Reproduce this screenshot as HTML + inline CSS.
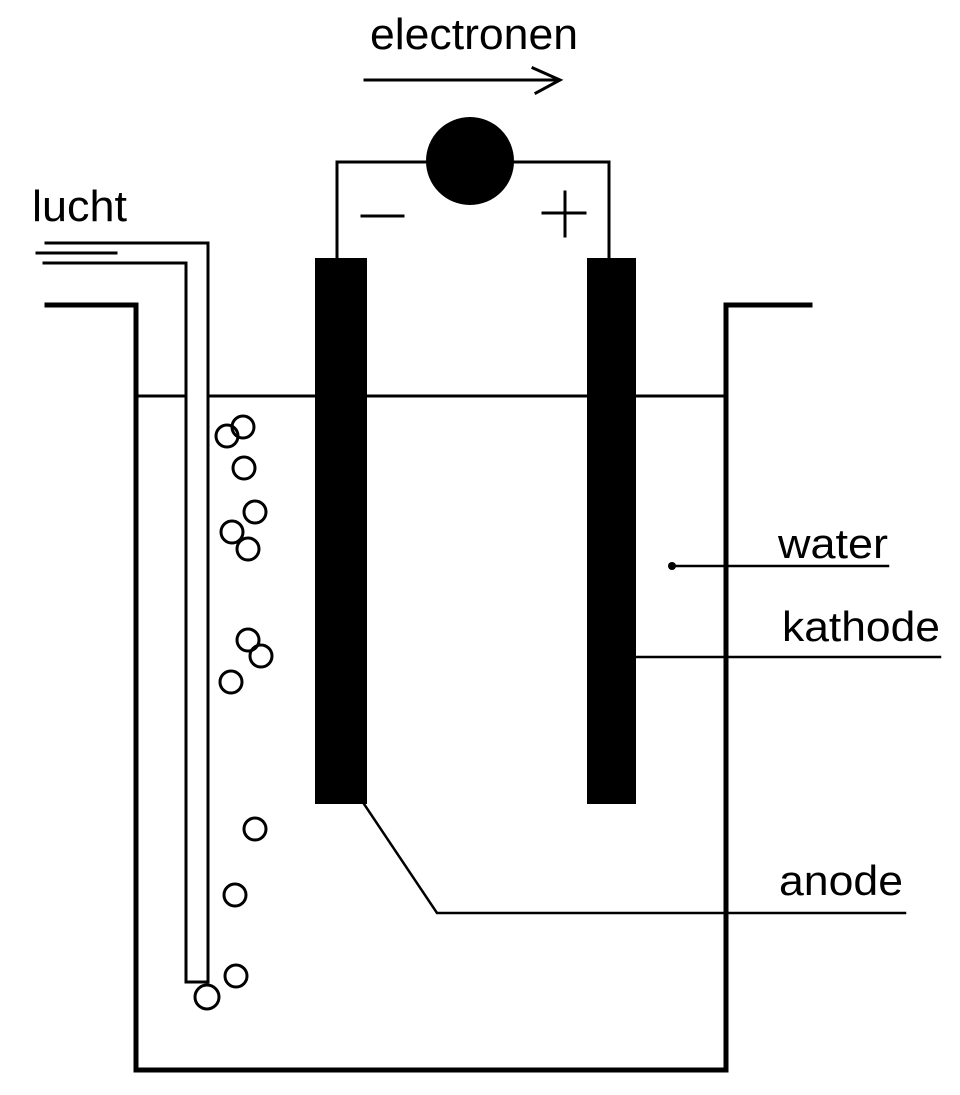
<!DOCTYPE html>
<html><head><style>
html,body{margin:0;padding:0;background:#fff;}
svg{display:block;}
text{font-family:"Liberation Sans",sans-serif;fill:#000;}
</style></head><body>
<svg width="960" height="1095" viewBox="0 0 960 1095" xmlns="http://www.w3.org/2000/svg">
<g fill="none" stroke="#000" stroke-linecap="square">
<path d="M47 305 H136 V1070 H726 V305 H810" stroke-width="5"/>
<path d="M136 396 H186 M208 396 H726" stroke-width="3"/>
<path d="M46 243 H208 V982 H186 V263 H44" stroke-width="3"/>
<path d="M37 253 H116" stroke-width="3"/>
<path d="M337 260 V162 H609 V260" stroke-width="3"/>
<path d="M365 80 H558" stroke-width="3"/>
<path d="M533 68 L560 80 L536 93" stroke-width="3"/>
<path d="M362 216 H403" stroke-width="3"/>
<path d="M543 213 H585 M565 192 V236" stroke-width="3"/>
<path d="M672 566 H888" stroke-width="2.5"/>
<path d="M636 657 H940" stroke-width="2.5"/>
<path d="M364 804 L437 913 H905" stroke-width="2.5"/>
<g stroke-width="3">
<circle cx="243" cy="427" r="11"/><circle cx="227" cy="436" r="11"/>
<circle cx="244" cy="468" r="11"/><circle cx="255" cy="512" r="11"/>
<circle cx="232" cy="532" r="11"/><circle cx="248" cy="549" r="11"/>
<circle cx="248" cy="640" r="11"/><circle cx="261" cy="656" r="11"/>
<circle cx="231" cy="682" r="11"/><circle cx="255" cy="829" r="11"/>
<circle cx="235" cy="895" r="11"/><circle cx="236" cy="976" r="11"/>
<circle cx="207" cy="997" r="12"/>
</g>
</g>
<rect x="315" y="258" width="52" height="546" fill="#000"/>
<rect x="587" y="258" width="49" height="546" fill="#000"/>
<circle cx="470" cy="161" r="44" fill="#000"/>
<circle cx="672" cy="566" r="4" fill="#000"/>
<text x="370" y="49" font-size="44" textLength="208" lengthAdjust="spacingAndGlyphs">electronen</text>
<text x="32" y="221" font-size="44" textLength="95" lengthAdjust="spacingAndGlyphs">lucht</text>
<text x="778" y="558" font-size="42" textLength="110" lengthAdjust="spacingAndGlyphs">water</text>
<text x="782" y="641" font-size="42" textLength="158" lengthAdjust="spacingAndGlyphs">kathode</text>
<text x="779" y="895" font-size="42" textLength="124" lengthAdjust="spacingAndGlyphs">anode</text>
</svg>
</body></html>
